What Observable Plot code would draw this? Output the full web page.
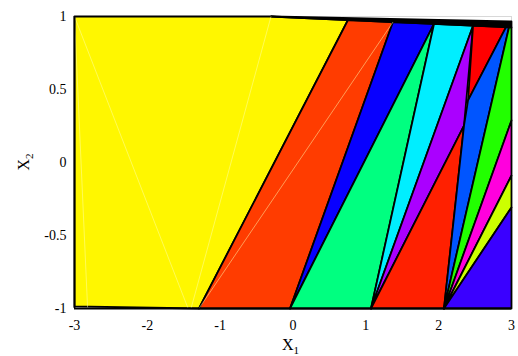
<!DOCTYPE html>
<html>
<head>
<meta charset="utf-8">
<script src="https://cdn.jsdelivr.net/npm/d3@7"></script>
<script src="https://cdn.jsdelivr.net/npm/@observablehq/plot@0.6"></script>
<style>
  html, body { margin: 0; padding: 0; background: #fff; }
</style>
</head>
<body>
<div id="chart"></div>
<script>
// ---- data ----
const regionNames  = ["yellow","orange","blue","green","cyan","purple","redLow","redTop","blue2","green2","magenta","lime","violet","band"];
const regionColors = ["#fff700","#ff3c00","#0800ff","#00ff80","#00eeff","#aa00ff","#ff2000","#ff0000","#0055ff","#22ff00","#ff00dd","#ccff00","#3a00ff","#000000"];
const regionX = [
  [-3, -0.302, 0.755, -1.291, -3],
  [0.755, 1.373, -0.041, -1.291],
  [1.373, 1.936, -0.041],
  [-0.041, 1.936, 1.071],
  [1.936, 2.472, 1.071],
  [2.472, 2.348, 1.071],
  [1.071, 2.348, 2.073],
  [2.472, 2.925, 2.403],
  [2.348, 2.403, 2.925, 2.966, 2.073],
  [2.073, 2.966, 3, 3],
  [2.073, 3, 3],
  [2.073, 3, 3],
  [2.073, 3, 3],
  [-0.302, 3, 3]
];
const regionY = [
  [1, 1, 0.976, -1, -0.986],
  [0.976, 0.962, -1, -1],
  [0.962, 0.949, -1],
  [-1, 0.949, -1],
  [0.949, 0.937, -1],
  [0.937, 0.253, -1],
  [-1, 0.253, -1],
  [0.937, 0.927, 0.425],
  [0.253, 0.425, 0.927, 0.926, -1],
  [-1, 0.926, 0.925, 0.288],
  [-1, 0.288, -0.089],
  [-1, -0.089, -0.308],
  [-1, -0.308, -1],
  [1, 0.966, 0.925]
];
// faint triangulation seams
const seamX1 = [-3, -3, -0.302, -1.291];
const seamY1 = [1, 1, 1, -1];
const seamX2 = [-2.82, -1.44, -1.40, 1.373];
const seamY2 = [-1, -1, -1, 0.962];

const xTicks = [-3, -2, -1, 0, 1, 2, 3];
const xTickLabels = ["-3", "-2", "-1", "0", "1", "2", "3"];
const yTicks = [-1, -0.5, 0, 0.5, 1];
const yTickLabels = ["-1", "-0.5", "0", "0.5", "1"];

// ---- build ----
const rows = regionNames.flatMap((r, i) =>
  regionX[i].map((x, j) => ({region: r, x, y: regionY[i][j]}))
);
const seams = seamX1.map((x1, i) => ({x1, y1: seamY1[i], x2: seamX2[i], y2: seamY2[i]}));

const polyMarks = regionNames.map((r, i) =>
  Plot.line(rows.filter(d => d.region === r), {
    x: "x", y: "y",
    fill: regionColors[i],
    stroke: "black",
    strokeWidth: 1.8,
    strokeLinejoin: "round",
    curve: "linear-closed"
  })
);

const plot = Plot.plot({
  width: 518,
  height: 356,
  marginLeft: 74,
  marginRight: 7,
  marginTop: 16,
  marginBottom: 48,
  style: {fontFamily: "Liberation Serif, Times New Roman, serif", fontSize: "14px", background: "#fff", color: "#000"},
  x: {domain: [-3, 3]},
  y: {domain: [-1, 1]},
  marks: [
    Plot.ruleY([1], {x1: -0.302, x2: 3, stroke: "#d8d8d8", strokeWidth: 1}),
    Plot.ruleX([3], {y1: 0.96, y2: 1, stroke: "#d8d8d8", strokeWidth: 1}),
    ...polyMarks,
    Plot.link(seams, {x1: "x1", y1: "y1", x2: "x2", y2: "y2", stroke: "#ffffb0", strokeOpacity: 0.7, strokeWidth: 0.7}),
    Plot.ruleX([-3], {y1: -1, y2: 1, stroke: "black", strokeWidth: 1.8}),
    Plot.ruleY([-1], {x1: -3, x2: 3, stroke: "black", strokeWidth: 1.8}),
    Plot.axisX({ticks: xTicks, tickFormat: d => xTickLabels[xTicks.indexOf(d)], tickSize: 0, tickPadding: 12, label: null, fontSize: 14}),
    Plot.axisY({ticks: yTicks, tickFormat: d => yTickLabels[yTicks.indexOf(d)], tickSize: 0, tickPadding: 8, label: null, fontSize: 14})
  ]
});

document.getElementById("chart").appendChild(plot);

// axis titles with subscripts
const svg = d3.select(plot);
const xs = plot.scale("x"), ys = plot.scale("y");
const xt = svg.append("text")
  .attr("x", xs.apply(0) - 2).attr("y", 350)
  .attr("text-anchor", "middle")
  .attr("font-family", "Liberation Serif, Times New Roman, serif")
  .attr("font-size", 16).attr("fill", "#000");
xt.append("tspan").text("X");
xt.append("tspan").attr("font-size", 11).attr("dy", 4).text("1");

const yt = svg.append("text")
  .attr("transform", `translate(29,${ys.apply(0)}) rotate(-90)`)
  .attr("text-anchor", "middle")
  .attr("font-family", "Liberation Serif, Times New Roman, serif")
  .attr("font-size", 16).attr("fill", "#000");
yt.append("tspan").text("X");
yt.append("tspan").attr("font-size", 11).attr("dy", 4).text("2");
</script>
</body>
</html>
